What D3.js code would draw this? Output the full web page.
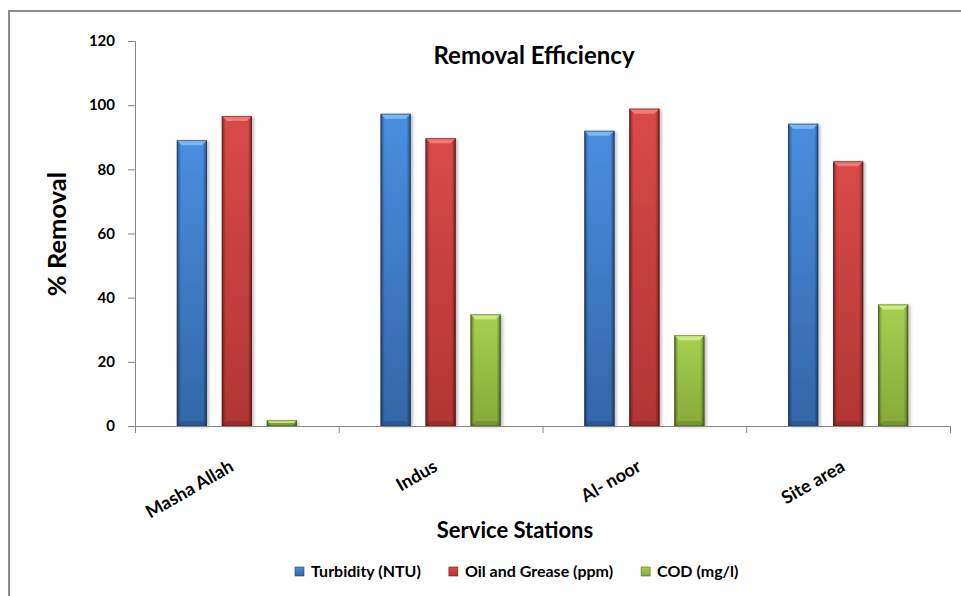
<!DOCTYPE html>
<html>
<head>
<meta charset="utf-8">
<script src="https://cdn.jsdelivr.net/npm/d3@7"></script>
<style>
  html, body { margin: 0; padding: 0; background: #fff; }
  svg { display: block; }
  text { font-family: Lato, "Open Sans", sans-serif; font-weight: bold; fill: #000; }
</style>
</head>
<body>
<svg id="chart" width="961" height="596"></svg>
<script>
// Service stations and removal efficiency (%) per parameter
const categories = ["Masha Allah", "Indus", "Al- noor", "Site area"];
const seriesNames = ["Turbidity (NTU)", "Oil and Grease (ppm)", "COD (mg/l)"];
const turbidity = [89.1, 97.3, 92.0, 94.2];
const oilGrease = [96.6, 89.7, 98.9, 82.5];
const cod = [1.8, 34.8, 28.3, 37.9];
const yTicks = [0, 20, 40, 60, 80, 100, 120];

const seriesValues = [turbidity, oilGrease, cod];
const palette = [
  { top: "#4a8ee0", bottom: "#3366a8", cap: "#7db6f2", edge: "#1f4274" },
  { top: "#d94a48", bottom: "#b23533", cap: "#f07a76", edge: "#6e1c1b" },
  { top: "#a6d052", bottom: "#86aa38", cap: "#cdeb84", edge: "#4f6a1a" }
];

const svg = d3.select("#chart");
const W = 961, H = 596;
svg.append("rect").attr("width", W).attr("height", H).attr("fill", "#fff");

// outer chart frame (left and top edges)
svg.append("path")
  .attr("d", `M9,${H} V11 H${W}`)
  .attr("fill", "none").attr("stroke", "#8c8c8c").attr("stroke-width", 2);

const plot = { left: 135, right: 950, top: 41, bottom: 426 };

const y = d3.scaleLinear().domain([0, 120]).range([plot.bottom, plot.top]);
const x0 = d3.scaleBand().domain(categories).range([plot.left, plot.right]).paddingInner(0).paddingOuter(0);
const x1 = d3.scaleBand().domain(seriesNames).range([0, x0.bandwidth()]).paddingInner(0.33).paddingOuter(0.93);

const defs = svg.append("defs");
palette.forEach((p, i) => {
  const g = defs.append("linearGradient").attr("id", "body" + i)
    .attr("x1", 0).attr("y1", 0).attr("x2", 0).attr("y2", 1);
  g.append("stop").attr("offset", "0%").attr("stop-color", p.top);
  g.append("stop").attr("offset", "100%").attr("stop-color", p.bottom);
});
const side = defs.append("linearGradient").attr("id", "sides")
  .attr("x1", 0).attr("y1", 0).attr("x2", 1).attr("y2", 0);
[[0, 0.55], [0.07, 0.2], [0.14, 0], [0.86, 0], [0.93, 0.2], [1, 0.6]].forEach(([o, a]) => {
  side.append("stop").attr("offset", o).attr("stop-color", "#000").attr("stop-opacity", a);
});
const shadow = defs.append("filter").attr("id", "shadow")
  .attr("x", "-20%").attr("y", "-5%").attr("width", "150%").attr("height", "115%");
shadow.append("feDropShadow").attr("dx", 2).attr("dy", 1).attr("stdDeviation", 1.5)
  .attr("flood-color", "#000").attr("flood-opacity", 0.25);

// bars
const groups = svg.append("g").selectAll("g")
  .data(categories).join("g")
  .attr("transform", d => `translate(${x0(d)},0)`);

groups.each(function(cat, ci) {
  const g = d3.select(this);
  seriesNames.forEach((s, si) => {
    const v = seriesValues[si][ci];
    const bx = x1(s), bw = x1.bandwidth();
    const by = y(v), bh = y(0) - y(v);
    const bev = Math.min(5, bh / 2);
    const p = palette[si];
    const bar = g.append("g").attr("filter", "url(#shadow)");
    bar.append("rect").attr("x", bx).attr("y", by).attr("width", bw).attr("height", bh)
      .attr("fill", `url(#body${si})`);
    bar.append("rect").attr("x", bx).attr("y", by).attr("width", bw).attr("height", bh)
      .attr("fill", "url(#sides)");
    // top bevel
    bar.append("polygon")
      .attr("points", [[bx, by], [bx + bw, by], [bx + bw - bev, by + bev], [bx + bev, by + bev]].join(" "))
      .attr("fill", p.cap);
    // bottom bevel
    bar.append("polygon")
      .attr("points", [[bx, by + bh], [bx + bw, by + bh], [bx + bw - bev, by + bh - bev], [bx + bev, by + bh - bev]].join(" "))
      .attr("fill", "#000").attr("fill-opacity", 0.12);
    bar.append("rect").attr("x", bx + 0.5).attr("y", by + 0.5).attr("width", bw - 1).attr("height", Math.max(0, bh - 1))
      .attr("fill", "none").attr("stroke", p.edge).attr("stroke-opacity", 0.6).attr("stroke-width", 1);
  });
});

// y axis
const yAxis = svg.append("g").attr("transform", `translate(${plot.left},0)`)
  .call(d3.axisLeft(y).tickValues(yTicks).tickSize(7).tickPadding(13));
yAxis.select(".domain").attr("stroke", "#868686");
yAxis.selectAll(".tick line").attr("stroke", "#868686");
yAxis.selectAll(".tick text").style("font-size", "15px").attr("fill", "#000");

// x axis: line with ticks at category boundaries
const xAxisG = svg.append("g");
xAxisG.append("line").attr("x1", plot.left).attr("x2", plot.right)
  .attr("y1", y(0) + 0.5).attr("y2", y(0) + 0.5).attr("stroke", "#868686");
const boundaries = categories.map(c => x0(c)).concat([x0(categories[categories.length - 1]) + x0.bandwidth()]);
xAxisG.selectAll("line.b").data(boundaries).join("line").attr("class", "b")
  .attr("x1", d => d + 0.5).attr("x2", d => d + 0.5)
  .attr("y1", y(0)).attr("y2", y(0) + 7).attr("stroke", "#868686");
xAxisG.selectAll("text").data(categories).join("text")
  .attr("transform", d => `translate(${x0(d) + x0.bandwidth() / 2 - 2},${y(0) + 44}) rotate(-30)`)
  .attr("text-anchor", "end")
  .style("font-size", "18px")
  .text(d => d);

// titles
svg.append("text").attr("x", 534).attr("y", 64).attr("text-anchor", "middle")
  .style("font-size", "24px").text("Removal Efficiency");
svg.append("text").attr("x", 515).attr("y", 538).attr("text-anchor", "middle")
  .style("font-size", "22px").text("Service Stations");
svg.append("text").attr("transform", "translate(66,234) rotate(-90)").attr("text-anchor", "middle")
  .style("font-size", "25.5px").text("% Removal");

// legend
const legend = svg.append("g").attr("transform", "translate(295,577)");
let lx = 0;
seriesNames.forEach((s, i) => {
  const it = legend.append("g").attr("transform", `translate(${lx},0)`);
  it.append("rect").attr("x", 0).attr("y", -10).attr("width", 9).attr("height", 9)
    .attr("fill", `url(#body${i})`).attr("stroke", palette[i].edge).attr("stroke-width", 0.6);
  const t = it.append("text").attr("x", 16).attr("y", 0).style("font-size", "16px").text(s);
  lx += 16 + t.node().getComputedTextLength() + 28;
});
</script>
</body>
</html>
